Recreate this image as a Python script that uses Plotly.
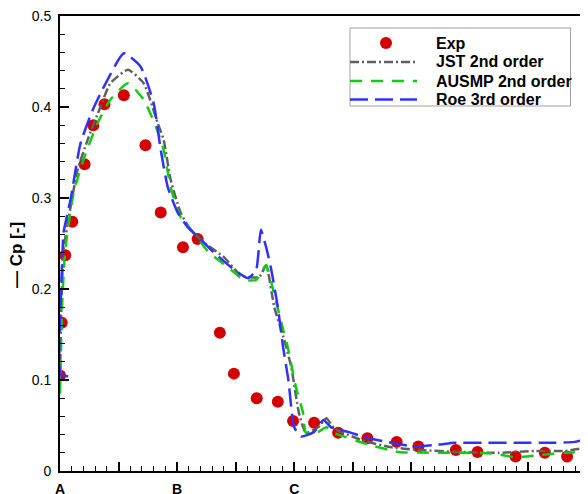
import plotly.graph_objects as go

# ---- data (x in station units: A=0, B=2, C=4, D=9) ----
exp_x = [0.0, 0.03, 0.09, 0.21, 0.42, 0.57, 0.76, 1.09, 1.46, 1.72, 2.10, 2.35, 2.73,
         2.97, 3.36, 3.72, 3.98, 4.34, 4.75, 5.25, 5.75, 6.12, 6.76, 7.13, 7.78, 8.28, 8.66]
exp_y = [0.105, 0.163, 0.237, 0.274, 0.337, 0.380, 0.403, 0.413, 0.358, 0.284, 0.246, 0.255,
         0.152, 0.107, 0.080, 0.076, 0.055, 0.053, 0.042, 0.036, 0.032, 0.027, 0.023, 0.021,
         0.016, 0.020, 0.016]

jst_x = [0.0, 0.02, 0.06, 0.15, 0.30, 0.49, 0.69, 0.86, 1.16, 1.43, 1.67, 1.77, 1.89, 2.06,
         2.23, 2.46, 2.80, 3.09, 3.40, 3.52, 3.66, 3.83, 3.95, 4.08, 4.20, 4.41, 4.55, 4.68,
         5.15, 5.66, 6.17, 6.81, 7.49, 8.11, 8.62, 9.0]
jst_y = [0.100, 0.170, 0.243, 0.279, 0.331, 0.367, 0.400, 0.426, 0.441, 0.426, 0.382, 0.364,
         0.320, 0.284, 0.265, 0.251, 0.235, 0.215, 0.213, 0.226, 0.180, 0.144, 0.114, 0.064,
         0.042, 0.048, 0.058, 0.047, 0.034, 0.026, 0.023, 0.021, 0.020, 0.022, 0.022, 0.026]

ausmp_x = [0.0, 0.04, 0.09, 0.23, 0.40, 0.64, 0.86, 1.16, 1.43, 1.64, 1.77, 1.89, 2.06, 2.23,
           2.53, 2.87, 3.14, 3.35, 3.52, 3.64, 3.78, 3.90, 4.03, 4.15, 4.20, 4.41, 4.55, 4.68,
           5.27, 5.78, 6.34, 6.91, 7.42, 7.77, 8.28, 8.62, 9.0]
ausmp_y = [0.085, 0.188, 0.243, 0.305, 0.342, 0.382, 0.408, 0.426, 0.408, 0.378, 0.353, 0.312,
           0.279, 0.266, 0.241, 0.224, 0.210, 0.210, 0.226, 0.199, 0.163, 0.133, 0.092, 0.064,
           0.042, 0.043, 0.048, 0.042, 0.029, 0.021, 0.020, 0.020, 0.019, 0.015, 0.018, 0.020,
           0.021]

roe_x = [0.14, 0.01, 0.02, 0.04, 0.06, 0.18, 0.35, 0.56, 0.78, 1.09, 1.38, 1.60, 1.72, 1.84,
         2.01, 2.18, 2.35, 2.58, 2.92, 3.21, 3.35, 3.43, 3.52, 3.60, 3.72, 3.81, 3.90, 4.00,
         4.12, 4.34, 4.50, 4.63, 4.92, 5.27, 5.66, 6.05, 6.46, 6.74, 7.20, 7.77, 8.35, 8.79,
         9.0]
roe_y = [0.104, 0.106, 0.200, 0.235, 0.262, 0.298, 0.360, 0.397, 0.426, 0.459, 0.444, 0.404,
         0.353, 0.312, 0.284, 0.268, 0.258, 0.243, 0.224, 0.212, 0.221, 0.265, 0.246, 0.224,
         0.180, 0.136, 0.100, 0.048, 0.038, 0.043, 0.056, 0.048, 0.043, 0.036, 0.031, 0.027,
         0.029, 0.031, 0.031, 0.031, 0.031, 0.032, 0.035]

x_tick_vals = [0, 1, 2, 3, 4, 5, 6, 7, 8, 9]
x_tick_text = ["<b>A</b>", "", "<b>B</b>", "", "<b>C</b>", "", "", "", "", "<b>D</b>"]
y_tick_vals = [0, 0.1, 0.2, 0.3, 0.4, 0.5]
y_tick_text = ["0", "0.1", "0.2", "0.3", "0.4", "0.5"]

series_names = ["Exp", "JST 2nd order", "AUSMP 2nd order", "Roe 3rd order"]
series_colors = ["#d40000", "#606060", "#10cc10", "#3030ff"]
series_dash = [None, "9px,3px,2px,3px", "12px,9px", "18px,7px"]

FONT = "Liberation Sans, Arial, Helvetica, sans-serif"

# ---- layout geometry (page pixels; the page body adds an 8px offset) ----
OX, OY = 8, 8
W, H = 588 - OX, 494 - OY
ML, MR, MT, MB = 60 - OX, 1, 16 - OY, 23
PW, PH = W - ML - MR, H - MT - MB


def px_x(px):
    return (px - OX - ML) / PW


def px_y(py):
    return (OY + H - MB - py) / PH


fig = go.Figure()
fig.add_trace(go.Scatter(x=exp_x, y=exp_y, mode="markers", name=series_names[0],
                         marker=dict(color=series_colors[0], size=12, line=dict(width=0))))
for xs, ys, i in [(jst_x, jst_y, 1), (ausmp_x, ausmp_y, 2), (roe_x, roe_y, 3)]:
    fig.add_trace(go.Scatter(x=xs, y=ys, mode="lines", name=series_names[i],
                             line=dict(color=series_colors[i], width=2.5, dash=series_dash[i],
                                       shape="spline", smoothing=0.5)))

# ---- legend drawn in paper space to match the boxed legend ----
shapes = [dict(type="rect", xref="paper", yref="paper",
               x0=px_x(350), x1=px_x(570.5), y0=px_y(106), y1=px_y(28),
               line=dict(color="#a0a0a0", width=1), fillcolor="white", layer="above")]
annotations = []
row_y = [43, 62, 81, 99.5]
for i, name in enumerate(series_names):
    yy = px_y(row_y[i])
    if series_dash[i] is None:
        shapes.append(dict(type="circle", xref="paper", yref="paper",
                           xsizemode="pixel", ysizemode="pixel",
                           xanchor=px_x(386), yanchor=yy, x0=-6, x1=6, y0=-6, y1=6,
                           fillcolor=series_colors[i], line=dict(width=0), layer="above"))
    else:
        shapes.append(dict(type="line", xref="paper", yref="paper",
                           x0=px_x(350), x1=px_x(417), y0=yy, y1=yy,
                           line=dict(color=series_colors[i], width=2.5, dash=series_dash[i]),
                           layer="above"))
    annotations.append(dict(text="<b>%s</b>" % name, xref="paper", yref="paper",
                            x=px_x(434), y=yy, xanchor="left", yanchor="middle",
                            showarrow=False,
                            font=dict(family=FONT, size=16, color="black")))

# y-axis title as rotated annotation
annotations.append(dict(text="<b>— Cp [-]</b>", xref="paper", yref="paper",
                        x=px_x(16), y=px_y(255), xanchor="center", yanchor="middle",
                        textangle=-90, showarrow=False,
                        font=dict(family=FONT, size=17, color="black")))

fig.update_layout(
    width=W, height=H,
    margin=dict(l=ML, r=MR, t=MT, b=MB, pad=0),
    paper_bgcolor="white", plot_bgcolor="white",
    font=dict(family=FONT, color="black", size=14),
    showlegend=False,
    shapes=shapes,
    annotations=annotations,
)
fig.update_xaxes(
    range=[0, 9], showgrid=False, zeroline=False, automargin=False,
    showline=True, linecolor="black", linewidth=2, mirror=True,
    ticks="inside", ticklen=9, tickwidth=2, tickcolor="black",
    tickmode="array", tickvals=x_tick_vals, ticktext=x_tick_text,
    tickfont=dict(family=FONT, size=14, color="black"),
    ticklabeloverflow="allow", ticklabelstandoff=4,
    minor=dict(dtick=0.2, ticks="inside", ticklen=5, tickwidth=1, tickcolor="black"),
)
fig.update_yaxes(
    range=[0, 0.5], showgrid=False, zeroline=False, automargin=False,
    showline=True, linecolor="black", linewidth=2, mirror=True,
    ticks="inside", ticklen=9, tickwidth=2, tickcolor="black",
    tickmode="array", tickvals=y_tick_vals, ticktext=y_tick_text,
    tickfont=dict(family=FONT, size=14, color="black"),
    ticklabeloverflow="allow", ticklabelstandoff=4,
    minor=dict(dtick=0.02, ticks="inside", ticklen=5, tickwidth=1, tickcolor="black"),
)

fig.write_html("out.html")
